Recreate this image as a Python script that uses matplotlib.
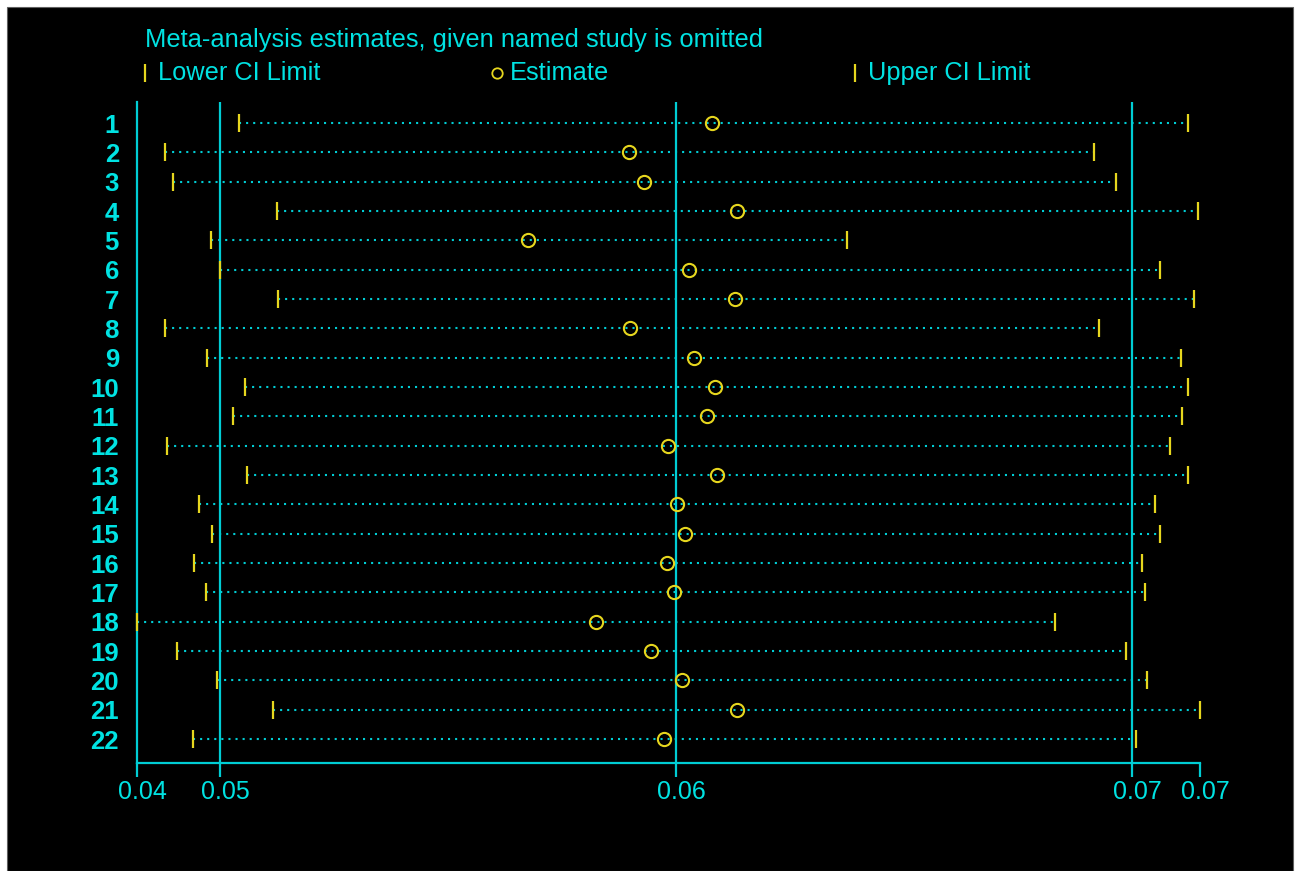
import matplotlib.pyplot as plt
import numpy as np
from matplotlib.lines import Line2D
from matplotlib.patches import Rectangle
from matplotlib.transforms import ScaledTranslation

plt.rcParams['font.family'] = ['Liberation Sans', 'DejaVu Sans']

# one row per omitted study
studies = [str(i) for i in range(1, 23)]
lower_ci = [0.05042, 0.04879, 0.04897, 0.05125, 0.04980, 0.05000, 0.05127, 0.04879,
            0.04971, 0.05055, 0.05029, 0.04884, 0.05059, 0.04954, 0.04982, 0.04943,
            0.04969, 0.04818, 0.04906, 0.04993, 0.05116, 0.04941]
estimate = [0.06079, 0.05897, 0.05930, 0.06134, 0.05675, 0.06029, 0.06129, 0.05899,
            0.06039, 0.06086, 0.06068, 0.05982, 0.06090, 0.06002, 0.06020, 0.05980,
            0.05996, 0.05825, 0.05945, 0.06013, 0.06134, 0.05974]
upper_ci = [0.07123, 0.06917, 0.06965, 0.07145, 0.06375, 0.07061, 0.07136, 0.06928,
            0.07107, 0.07123, 0.07110, 0.07083, 0.07123, 0.07050, 0.07061, 0.07022,
            0.07029, 0.06831, 0.06987, 0.07033, 0.07149, 0.07009]

# pooled result with every study included
pooled_lower = 0.0500
pooled_est = 0.0600
pooled_upper = 0.0700
xtick_labels = ['0.04', '0.05', '0.06', '0.07', '0.07']

CYAN = '#00cdd4'
TEXT = '#00e2e2'
YELLOW = '#e6d61e'

W, H = 1297, 871
fig = plt.figure(figsize=(W / 100, H / 100), dpi=100)
fig.patch.set_facecolor('white')
fig.patches.append(Rectangle((7 / W, 0), (1293 - 7) / W, (H - 7) / H,
                             transform=fig.transFigure, facecolor='black',
                             edgecolor='#606060', lw=0.8, zorder=-10))

ax = fig.add_axes([137 / W, (H - 763) / H, (1200 - 137) / W, (763 - 102) / H])
ax.set_facecolor('none')
ax.set_zorder(5)

y = np.arange(1, len(studies) + 1)
ax.hlines(y, lower_ci, upper_ci, colors=CYAN, linestyles=[(0, (1, 2.4))], lw=1.5, zorder=1)
for v in (pooled_lower, pooled_est, pooled_upper):
    ax.axvline(v, color=CYAN, lw=1.6, zorder=2)

ax.plot(lower_ci, y, ls='none', marker='|', ms=12.5, mew=1.6, color=YELLOW,
        clip_on=False, zorder=4)
ax.plot(upper_ci, y, ls='none', marker='|', ms=12.5, mew=1.6, color=YELLOW,
        clip_on=False, zorder=4)
ax.plot(estimate, y, ls='none', marker='o', ms=9.5, mfc='none', mec=YELLOW, mew=1.5,
        clip_on=False, zorder=4)

ax.set_xlim(min(lower_ci), max(upper_ci))
ax.set_ylim(22.818, 0.284)

for side in ('top', 'right'):
    ax.spines[side].set_visible(False)
for side in ('left', 'bottom'):
    ax.spines[side].set_color(CYAN)
    ax.spines[side].set_linewidth(1.6)

ax.set_xticks([min(lower_ci), pooled_lower, pooled_est, pooled_upper, max(upper_ci)])
ax.set_xticklabels(xtick_labels)
ax.set_yticks(y)
ax.set_yticklabels(studies, fontweight='bold')
ax.tick_params(axis='x', colors=CYAN, length=10, width=1.6, pad=2,
               labelsize=18, labelcolor=TEXT)
ax.tick_params(axis='y', length=0, pad=13, labelsize=18.5, labelcolor=TEXT)

# x labels sit slightly right of their ticks
shift = ScaledTranslation(5 / 100, 0, fig.dpi_scale_trans)
for lab in ax.get_xticklabels():
    lab.set_transform(lab.get_transform() + shift)

fig.text(145 / W, 1 - 40 / H, 'Meta-analysis estimates, given named study is omitted',
         color=TEXT, fontsize=18.4, ha='left', va='center')

# legend row
leg_y = 1 - 73 / H
legend_items = [(145, '|', 'Lower CI Limit'), (497, 'o', 'Estimate'), (855, '|', 'Upper CI Limit')]
for px, mk, label in legend_items:
    if mk == 'o':
        fig.add_artist(Line2D([px / W], [leg_y], transform=fig.transFigure, ls='none',
                              marker='o', ms=7.5, mfc='none', mec=YELLOW, mew=1.3))
    else:
        fig.add_artist(Line2D([px / W], [leg_y], transform=fig.transFigure, ls='none',
                              marker='|', ms=13, mew=1.6, color=YELLOW))
    fig.text((px + 13) / W, leg_y, label, color=TEXT, fontsize=18.3, ha='left', va='center')

fig.savefig('out.png', dpi=100, facecolor=fig.get_facecolor())
